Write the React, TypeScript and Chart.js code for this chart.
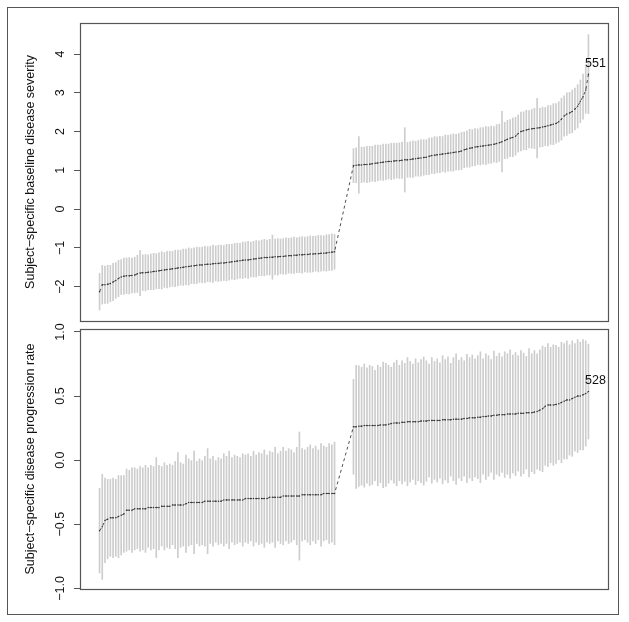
import React, { useEffect, useRef } from "react";
import { Chart, registerables } from "chart.js";
Chart.register(...registerables);

// ---------- data ----------
// Subjects are sorted; the low group occupies x = 1..88, the high group x = 95..182
const LOW_START = 1;
const HIGH_START = 95;
const X_MIN = -6.24;
const X_MAX = 189.24;

// Panel 1: subject-specific baseline disease severity (posterior means and CI half-widths)
const baselineLow = [
  -2.13, -1.95, -1.95, -1.94, -1.92, -1.88, -1.84, -1.79, -1.75, -1.73,
  -1.72, -1.72, -1.71, -1.70, -1.67, -1.65, -1.64, -1.64, -1.63, -1.62,
  -1.61, -1.60, -1.59, -1.58, -1.57, -1.56, -1.55, -1.54, -1.53, -1.52,
  -1.51, -1.50, -1.49, -1.48, -1.47, -1.46, -1.45, -1.44, -1.44, -1.43,
  -1.42, -1.42, -1.41, -1.40, -1.40, -1.39, -1.39, -1.38, -1.37, -1.36,
  -1.35, -1.34, -1.33, -1.32, -1.31, -1.31, -1.30, -1.29, -1.28, -1.27,
  -1.26, -1.25, -1.25, -1.24, -1.24, -1.23, -1.23, -1.22, -1.22, -1.21,
  -1.20, -1.20, -1.19, -1.19, -1.18, -1.18, -1.17, -1.17, -1.16, -1.16,
  -1.15, -1.15, -1.14, -1.14, -1.13, -1.12, -1.11, -1.10,
];
const baselineLowHalfWidth = [
  0.47, 0.50, 0.48, 0.49, 0.47, 0.48, 0.46, 0.47, 0.45, 0.47,
  0.46, 0.47, 0.45, 0.46, 0.48, 0.58, 0.46, 0.47, 0.45, 0.46,
  0.47, 0.45, 0.46, 0.48, 0.45, 0.47, 0.46, 0.45, 0.47, 0.46,
  0.45, 0.47, 0.46, 0.48, 0.45, 0.46, 0.47, 0.45, 0.46, 0.47,
  0.45, 0.46, 0.48, 0.45, 0.47, 0.46, 0.45, 0.47, 0.46, 0.45,
  0.47, 0.46, 0.45, 0.47, 0.46, 0.48, 0.45, 0.46, 0.47, 0.45,
  0.46, 0.47, 0.45, 0.46, 0.57, 0.46, 0.47, 0.45, 0.46, 0.47,
  0.45, 0.46, 0.47, 0.45, 0.46, 0.47, 0.45, 0.46, 0.47, 0.46,
  0.45, 0.47, 0.46, 0.45, 0.47, 0.46, 0.47, 0.45,
];
const baselineHigh = [
  1.12, 1.13, 1.14, 1.14, 1.15, 1.15, 1.16, 1.17, 1.18, 1.19,
  1.20, 1.21, 1.22, 1.23, 1.23, 1.24, 1.25, 1.25, 1.26, 1.27,
  1.27, 1.28, 1.29, 1.30, 1.31, 1.32, 1.33, 1.34, 1.36, 1.38,
  1.39, 1.40, 1.41, 1.42, 1.43, 1.44, 1.45, 1.46, 1.47, 1.48,
  1.50, 1.53, 1.55, 1.57, 1.58, 1.60, 1.61, 1.62, 1.63, 1.64,
  1.65, 1.66, 1.67, 1.69, 1.71, 1.74, 1.77, 1.80, 1.83, 1.85,
  1.88, 1.95, 2.00, 2.02, 2.04, 2.06, 2.07, 2.08, 2.09, 2.10,
  2.12, 2.13, 2.15, 2.17, 2.19, 2.21, 2.25, 2.32, 2.40, 2.45,
  2.48, 2.52, 2.58, 2.65, 2.78, 2.90, 3.07, 3.48,
];
const baselineHighHalfWidth = [
  0.44, 0.45, 0.73, 0.46, 0.45, 0.47, 0.46, 0.45, 0.47, 0.46,
  0.45, 0.47, 0.46, 0.45, 0.47, 0.46, 0.45, 0.46, 0.47, 0.83,
  0.45, 0.46, 0.47, 0.45, 0.46, 0.47, 0.46, 0.45, 0.47, 0.46,
  0.48, 0.46, 0.47, 0.45, 0.48, 0.46, 0.47, 0.48, 0.46, 0.47,
  0.48, 0.46, 0.47, 0.49, 0.47, 0.48, 0.46, 0.48, 0.47, 0.49,
  0.47, 0.48, 0.46, 0.49, 0.48, 0.78, 0.47, 0.49, 0.48, 0.50,
  0.49, 0.48, 0.50, 0.49, 0.51, 0.48, 0.50, 0.52, 0.77, 0.50,
  0.51, 0.49, 0.52, 0.50, 0.53, 0.51, 0.52, 0.54, 0.52, 0.55,
  0.53, 0.55, 0.54, 0.56, 0.55, 0.58, 0.60, 1.02,
];

// Panel 2: subject-specific disease progression rate
const rateLow = [
  -0.55, -0.52, -0.47, -0.46, -0.45, -0.45, -0.45, -0.44, -0.43, -0.42,
  -0.39, -0.39, -0.39, -0.38, -0.38, -0.38, -0.38, -0.38, -0.37, -0.37,
  -0.37, -0.37, -0.37, -0.36, -0.36, -0.36, -0.36, -0.35, -0.35, -0.35,
  -0.35, -0.35, -0.34, -0.33, -0.33, -0.33, -0.33, -0.33, -0.33, -0.32,
  -0.32, -0.32, -0.32, -0.32, -0.32, -0.32, -0.31, -0.31, -0.31, -0.31,
  -0.31, -0.31, -0.31, -0.31, -0.30, -0.30, -0.30, -0.30, -0.30, -0.30,
  -0.30, -0.30, -0.30, -0.29, -0.29, -0.29, -0.29, -0.29, -0.28, -0.28,
  -0.28, -0.28, -0.28, -0.28, -0.28, -0.27, -0.27, -0.27, -0.27, -0.27,
  -0.27, -0.27, -0.27, -0.26, -0.26, -0.26, -0.26, -0.26,
];
const rateLowHalfWidth = [
  0.33, 0.41, 0.33, 0.31, 0.30, 0.31, 0.30, 0.32, 0.31, 0.30,
  0.32, 0.31, 0.33, 0.32, 0.31, 0.33, 0.32, 0.34, 0.31, 0.33,
  0.32, 0.39, 0.33, 0.31, 0.34, 0.32, 0.33, 0.31, 0.34, 0.41,
  0.33, 0.32, 0.38, 0.34, 0.33, 0.40, 0.32, 0.34, 0.33, 0.35,
  0.41, 0.33, 0.35, 0.32, 0.34, 0.33, 0.36, 0.34, 0.38, 0.33,
  0.35, 0.34, 0.33, 0.36, 0.34, 0.35, 0.33, 0.37, 0.34, 0.36,
  0.35, 0.38, 0.34, 0.36, 0.35, 0.39, 0.34, 0.36, 0.38, 0.35,
  0.37, 0.36, 0.34, 0.38, 0.50, 0.36, 0.35, 0.37, 0.39, 0.36,
  0.38, 0.35, 0.40, 0.37, 0.36, 0.39, 0.38, 0.40,
];
const rateHigh = [
  0.26, 0.26, 0.265, 0.265, 0.27, 0.27, 0.27, 0.27, 0.27, 0.27,
  0.275, 0.275, 0.275, 0.28, 0.285, 0.29, 0.29, 0.29, 0.295, 0.295,
  0.30, 0.30, 0.30, 0.30, 0.30, 0.305, 0.305, 0.305, 0.31, 0.31,
  0.31, 0.31, 0.31, 0.315, 0.315, 0.315, 0.315, 0.32, 0.32, 0.32,
  0.32, 0.325, 0.325, 0.33, 0.33, 0.33, 0.335, 0.335, 0.34, 0.34,
  0.345, 0.345, 0.35, 0.35, 0.355, 0.355, 0.355, 0.36, 0.36, 0.36,
  0.36, 0.365, 0.365, 0.365, 0.37, 0.37, 0.37, 0.375, 0.38, 0.39,
  0.40, 0.42, 0.43, 0.43, 0.43, 0.435, 0.44, 0.45, 0.46, 0.47,
  0.47, 0.48, 0.49, 0.50, 0.50, 0.51, 0.52, 0.535,
];
const rateHighHalfWidth = [
  0.37, 0.48, 0.47, 0.46, 0.48, 0.45, 0.47, 0.46, 0.43, 0.47,
  0.45, 0.49, 0.48, 0.46, 0.44, 0.47, 0.49, 0.45, 0.48, 0.46,
  0.50, 0.47, 0.45, 0.49, 0.46, 0.48, 0.50, 0.47, 0.44, 0.49,
  0.46, 0.48, 0.45, 0.50, 0.47, 0.49, 0.44, 0.48, 0.51, 0.46,
  0.48, 0.45, 0.50, 0.47, 0.49, 0.46, 0.48, 0.51, 0.45, 0.49,
  0.47, 0.44, 0.50, 0.46, 0.48, 0.45, 0.49, 0.47, 0.50, 0.46,
  0.48, 0.45, 0.49, 0.47, 0.44, 0.50, 0.46, 0.48, 0.45, 0.47,
  0.49, 0.46, 0.48, 0.45, 0.47, 0.46, 0.44, 0.47, 0.45, 0.46,
  0.43, 0.45, 0.42, 0.44, 0.42, 0.43, 0.41, 0.37,
];

const baselineTicks = [-2, -1, 0, 1, 2, 3, 4];
const rateTicks = [-1, -0.5, 0, 0.5, 1];
const baselineTitle = "Subject\u2212specific baseline disease severity";
const rateTitle = "Subject\u2212specific disease progression rate";
const baselineLabel = "551";
const rateLabel = "528";

// ---------- rendering ----------
const FONT = "'Liberation Sans', Arial, Helvetica, sans-serif";
const FRAME = "#555555";

type Pt = { x: number; y: number; lo: number; hi: number };

function buildPoints(low: number[], lowHw: number[], high: number[], highHw: number[]): Pt[] {
  const pts: Pt[] = [];
  low.forEach((v, i) => pts.push({ x: LOW_START + i, y: v, lo: v - lowHw[i], hi: v + lowHw[i] }));
  high.forEach((v, i) => pts.push({ x: HIGH_START + i, y: v, lo: v - highHw[i], hi: v + highHw[i] }));
  return pts;
}

function fmt(v: number, decimals: number) {
  const s = Math.abs(v).toFixed(decimals);
  return v < 0 ? "\u2212" + s : s;
}

function makeConfig(
  pts: Pt[],
  yMin: number,
  yMax: number,
  ticks: number[],
  decimals: number,
  title: string,
  label: string,
  padTop: number,
  padBottom: number
): any {
  const overlay = {
    id: "overlay",
    afterDraw(chart: any) {
      const { ctx, chartArea } = chart;
      const ys = chart.scales.y;
      ctx.save();
      // plot box
      ctx.strokeStyle = FRAME;
      ctx.lineWidth = 1.2;
      ctx.strokeRect(
        Math.round(chartArea.left) + 0.5,
        Math.round(chartArea.top) + 0.5,
        Math.round(chartArea.right - chartArea.left),
        Math.round(chartArea.bottom - chartArea.top)
      );
      // rotated tick labels (R style)
      ctx.fillStyle = "#111";
      ctx.font = `12.5px ${FONT}`;
      ctx.textAlign = "center";
      ctx.textBaseline = "middle";
      ys.ticks.forEach((t: any) => {
        const py = ys.getPixelForValue(t.value);
        ctx.save();
        ctx.translate(61, py);
        ctx.rotate(-Math.PI / 2);
        ctx.fillText(fmt(t.value, decimals), 0, 0);
        ctx.restore();
      });
      // label of the last subject
      const meta = chart.getDatasetMeta(1);
      const last = meta.data[meta.data.length - 1];
      if (last) {
        ctx.fillText(label, last.x + 7, last.y - 11);
      }
      ctx.restore();
    },
  };

  return {
    type: "bar",
    data: {
      datasets: [
        {
          type: "bar",
          data: pts.map((p) => ({ x: p.x, y: [p.lo, p.hi] })),
          backgroundColor: "#cdcdcd",
          borderWidth: 0,
          barThickness: 1,
          grouped: false,
          order: 2,
        },
        {
          type: "line",
          data: pts.map((p) => ({ x: p.x, y: p.y })),
          borderColor: "#3a3a3a",
          borderWidth: 0.9,
          borderDash: [3, 3],
          pointRadius: 0.75,
          pointBorderWidth: 0,
          pointBackgroundColor: "#333",
          tension: 0,
          order: 1,
        },
      ],
    },
    options: {
      animation: false,
      responsive: false,
      maintainAspectRatio: false,
      events: [],
      layout: { padding: { left: 0, right: 21, top: padTop, bottom: padBottom } },
      plugins: { legend: { display: false }, tooltip: { enabled: false } },
      scales: {
        x: { type: "linear", min: X_MIN, max: X_MAX, display: false, offset: false },
        y: {
          type: "linear",
          min: yMin,
          max: yMax,
          afterBuildTicks: (scale: any) => {
            scale.ticks = ticks.map((v) => ({ value: v }));
          },
          afterFit: (scale: any) => {
            scale.width = 80;
          },
          ticks: { display: false },
          grid: { drawOnChartArea: false, drawTicks: true, tickLength: 6, color: FRAME, lineWidth: 1 },
          border: { display: false },
          title: {
            display: true,
            text: title,
            color: "#111",
            font: { size: 12.5, family: FONT },
            padding: { top: 23, bottom: 0 },
          },
        },
      },
    },
    plugins: [overlay],
  };
}

function Panel(props: { cfg: any; top: number; height: number }) {
  const ref = useRef<HTMLCanvasElement | null>(null);
  useEffect(() => {
    if (!ref.current) return;
    const chart = new Chart(ref.current, props.cfg);
    return () => chart.destroy();
  }, []);
  return (
    <canvas
      ref={ref}
      width={629}
      height={props.height}
      style={{ position: "absolute", left: 0, top: props.top, width: 629, height: props.height, display: "block" }}
    />
  );
}

export default function App() {
  const basePts = buildPoints(baselineLow, baselineLowHalfWidth, baselineHigh, baselineHighHalfWidth);
  const ratePts = buildPoints(rateLow, rateLowHalfWidth, rateHigh, rateHighHalfWidth);
  const topCfg = makeConfig(basePts, -2.886, 4.8, baselineTicks, 0, baselineTitle, baselineLabel, 23, 4);
  const botCfg = makeConfig(ratePts, -1.005, 1.023, rateTicks, 1, rateTitle, rateLabel, 14, 33);
  return (
    <div style={{ position: "fixed", left: 0, top: 0, width: 629, height: 622, background: "#fff", overflow: "hidden" }}>
      <div
        style={{
          position: "absolute",
          left: 7,
          top: 7,
          width: 612,
          height: 608,
          border: `1px solid ${FRAME}`,
          boxSizing: "border-box",
        }}
      />
      <Panel cfg={topCfg} top={0} height={325} />
      <Panel cfg={botCfg} top={315} height={307} />
    </div>
  );
}
